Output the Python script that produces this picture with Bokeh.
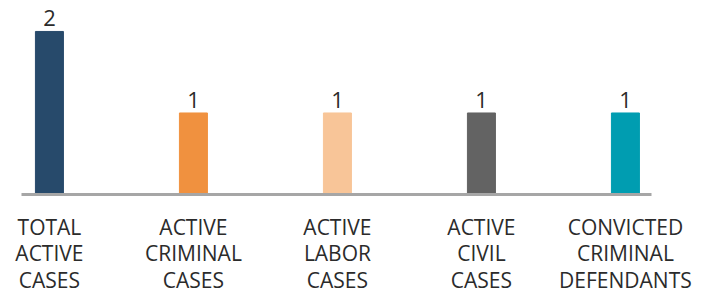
from bokeh.plotting import figure
from bokeh.models import Range1d, FixedTicker, ColumnDataSource
from bokeh.core.properties import value
from bokeh.embed import file_html
from bokeh.resources import INLINE

categories = ["TOTAL\nACTIVE\nCASES", "ACTIVE\nCRIMINAL\nCASES", "ACTIVE\nLABOR\nCASES",
              "ACTIVE\nCIVIL\nCASES", "CONVICTED\nCRIMINAL\nDEFENDANTS"]
counts = [2, 1, 1, 1, 1]
colors = ["#274a6b", "#f0913f", "#f8c598", "#636363", "#009db1"]

xs = list(range(len(categories)))
src = ColumnDataSource(dict(x=xs, top=counts, color=colors, label=[str(c) for c in counts]))

p = figure(frame_width=630, frame_height=187, output_backend="svg", toolbar_location=None,
           x_range=Range1d(-0.194, 4.181), y_range=Range1d(0, 2.294),
           min_border_left=21, min_border_right=42, min_border_top=7, min_border_bottom=0)
p.vbar(x="x", top="top", bottom=0, width=28/144, color="color", source=src)
p.text(x="x", y="top", text="label", source=src, text_align="center", text_baseline="bottom",
       y_offset=-5, text_font=value("Open Sans"), text_font_size="22px", text_color="#2b2b2b")

p.xgrid.visible = False
p.ygrid.visible = False
p.yaxis.visible = False
p.outline_line_color = None
p.background_fill_color = "white"
p.border_fill_color = "white"

ax = p.xaxis[0]
ax.ticker = FixedTicker(ticks=xs)
ax.major_label_overrides = {i: c for i, c in enumerate(categories)}
ax.major_tick_line_color = None
ax.minor_tick_line_color = None
ax.axis_line_color = "#a6a6a6"
ax.axis_line_width = 3
ax.major_label_standoff = 12
ax.major_label_text_font = "Open Sans"
ax.major_label_text_font_size = "21px"
ax.major_label_text_color = "#2b2b2b"
ax.major_label_text_line_height = 0.95

open("out.html", "w").write(file_html(p, INLINE))
